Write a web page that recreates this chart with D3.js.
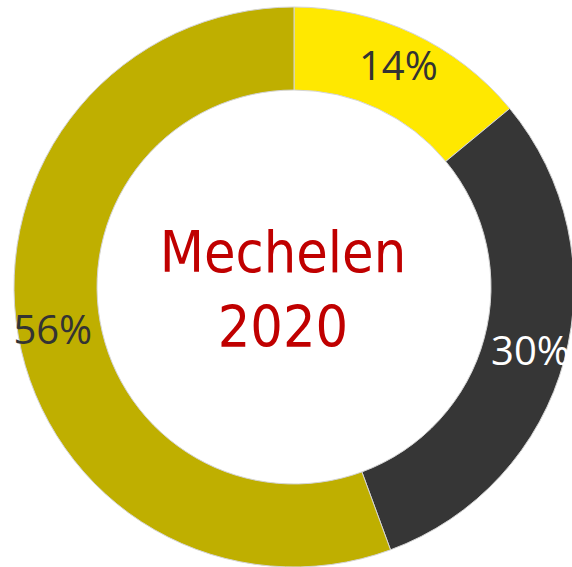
<!DOCTYPE html>
<html>
<head>
<meta charset="utf-8">
<script src="https://cdn.jsdelivr.net/npm/d3@7"></script>
<style>
  body { margin: 0; background: #fff; }
</style>
</head>
<body>
<script>
const width = 572;
const height = 567;

const labels = ['A', 'B', 'C'];
const values = [14, 30.4, 55.6];
const pctLabels = ['14%', '30%', '56%'];
const colors = ['#FFE800', '#363636', '#BFAF00'];
const labelColors = ['#333333', '#ffffff', '#333333'];
const titleLines = ['Mechelen', '2020'];

const cx = 294;
const cy = 287;
const outer = 280;
const inner = 197;

const svg = d3
  .select('body')
  .append('svg')
  .attr('width', width)
  .attr('height', height);

const g = svg.append('g').attr('transform', `translate(${cx},${cy})`);

const pie = d3.pie().sort(null).value((d, i) => values[i]);
const arcs = pie(labels);

const arc = d3.arc().innerRadius(inner).outerRadius(outer);
const labelArc = d3.arc().innerRadius(228).outerRadius(262);

g.selectAll('.slice')
  .data(arcs)
  .enter()
  .append('path')
  .attr('class', 'slice')
  .attr('d', arc)
  .attr('fill', (d, i) => colors[i])
  .attr('stroke', '#d4d4d4')
  .attr('stroke-width', 1);

g.selectAll('.label')
  .data(arcs)
  .enter()
  .append('text')
  .attr('class', 'label')
  .attr('transform', (d) => `translate(${labelArc.centroid(d)})`)
  .attr('dy', '0.36em')
  .attr('text-anchor', 'middle')
  .style('font-family', '"Open Sans", sans-serif')
  .style('font-size', '40px')
  .attr('fill', (d, i) => labelColors[i])
  .text((d, i) => pctLabels[i]);

// centre title
svg.selectAll('.title')
  .data(titleLines)
  .enter()
  .append('text')
  .attr('class', 'title')
  .attr('x', 283)
  .attr('y', (d, i) => 272 + i * 75)
  .attr('text-anchor', 'middle')
  .style('font-family', '"DejaVu Sans Condensed", "DejaVu Sans", sans-serif')
  .style('font-size', '57px')
  .attr('fill', '#C00000')
  .text((d) => d);
</script>
</body>
</html>
